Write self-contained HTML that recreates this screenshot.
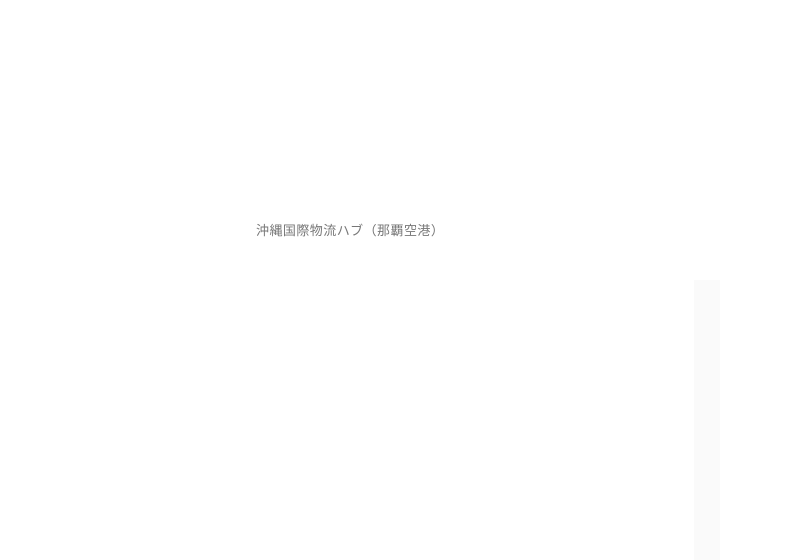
<!DOCTYPE html>
<html><head><meta charset="utf-8"><style>
html,body{margin:0;padding:0;background:#fff;width:790px;height:560px;overflow:hidden;position:relative}
.t{position:absolute;left:256px;top:222px;font-family:"Liberation Sans","Noto Sans CJK JP",sans-serif;font-size:13px;line-height:17px;color:#777;white-space:nowrap;letter-spacing:0.45px}
.s{position:absolute;left:694px;top:280px;width:26px;height:280px;background:#fafafa}
</style></head><body>
<div class="t">沖縄国際物流ハブ（那覇空港）</div>
<div class="s"></div>
</body></html>
